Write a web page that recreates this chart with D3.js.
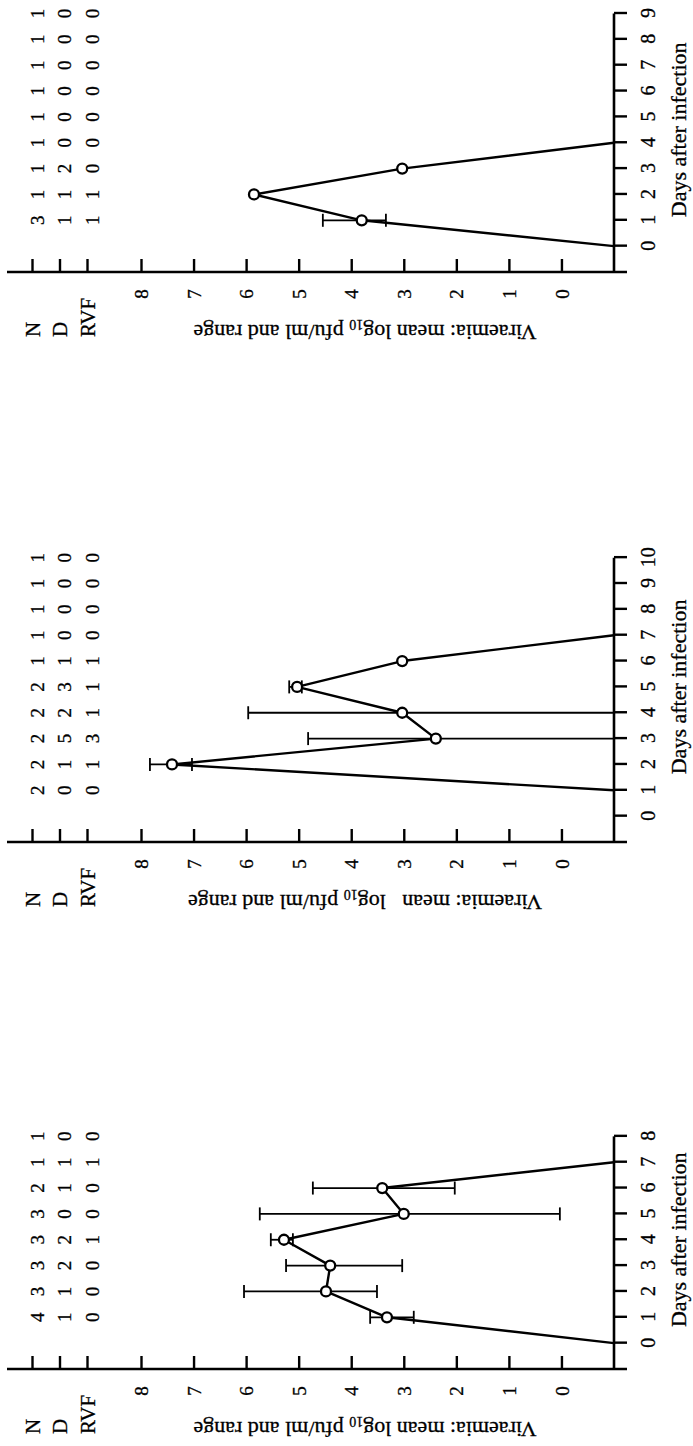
<!DOCTYPE html>
<html>
<head>
<meta charset="utf-8">
<script src="https://cdn.jsdelivr.net/npm/d3@7"></script>
<style>
  body { margin: 0; background: #fff; }
  text { font-family: "Liberation Serif", "Times New Roman", serif; fill: #000; stroke: #000; stroke-width: 0.3; }
</style>
</head>
<body>
<div id="app"></div>
<script>
// the figure is printed sideways: it is drawn upright and then turned -90deg

const rows = ["N", "D", "RVF"];
const valueTicks = [0, 1, 2, 3, 4, 5, 6, 7, 8];

// panel A (left in the upright figure)
const daysA = [0, 1, 2, 3, 4, 5, 6, 7];
const meanA = [null, 3.32, 4.48, 4.40, 5.28, 3.00, 3.41, null];
const errDaysA = [1, 2, 3, 4, 5, 6];
const errHiA = [3.64, 6.04, 5.24, 5.53, 5.74, 4.73];
const errLoA = [2.81, 3.51, 3.03, 5.11, 0.03, 2.03];
const nA = [4, 3, 3, 3, 3, 2, 1, 1];
const dA = [1, 1, 2, 2, 0, 1, 1, 0];
const rvfA = [0, 0, 0, 1, 0, 0, 1, 0];

// panel B (middle)
const daysB = [1, 2, 3, 4, 5, 6, 7];
const meanB = [null, 7.41, 2.39, 3.03, 5.03, 3.03, null];
const errDaysB = [2, 3, 4, 5];
const errHiB = [7.83, 4.82, 5.96, 5.18];
const errLoB = [7.03, null, null, 4.94]; // null = down to the undetectable level
const nB = [2, 2, 2, 2, 2, 1, 1, 1, 1, 1];
const dB = [0, 1, 5, 2, 3, 1, 0, 0, 0, 0];
const rvfB = [0, 1, 3, 1, 1, 1, 0, 0, 0, 0];

// panel C (right)
const daysC = [0, 1, 2, 3, 4];
const meanC = [null, 3.80, 5.85, 3.03, null];
const errDaysC = [1];
const errHiC = [4.54];
const errLoC = [3.34];
const nC = [3, 1, 1, 1, 1, 1, 1, 1, 1];
const dC = [1, 1, 2, 0, 0, 0, 0, 0, 0];
const rvfC = [1, 1, 0, 0, 0, 0, 0, 0, 0];

const panels = [
  {maxDay: 8, corner: 77, days: daysA, mean: meanA, errDays: errDaysA, errHi: errHiA, errLo: errLoA,
   counts: [nA, dA, rvfA], gap: " "},
  {maxDay: 10, corner: 604, days: daysB, mean: meanB, errDays: errDaysB, errHi: errHiB, errLo: errLoB,
   counts: [nB, dB, rvfB], gap: "   "},
  {maxDay: 9, corner: 1174, days: daysC, mean: meanC, errDays: errDaysC, errHi: errHiC, errLo: errLoC,
   counts: [nC, dC, rvfC], gap: " "}
];

const W = 693, H = 1446;
const svg = d3.select("#app").append("svg")
    .attr("width", W)
    .attr("height", H)
    .attr("viewBox", [0, 0, W, H]);
svg.append("rect").attr("width", W).attr("height", H).attr("fill", "#fff");

// upright frame: width H, height W
const root = svg.append("g").attr("transform", `translate(0,${H}) rotate(-90)`);

const y = d3.scaleLinear().domain([-1, 8]).range([614, 141]);
const base = y.domain()[0];
const yRow = d3.scalePoint().domain(rows).range([32, 87]);
const step = 25.85;

panels.forEach(p => {
  const x = d3.scaleLinear()
      .domain([-1, p.maxDay])
      .range([p.corner, p.corner + step * (p.maxDay + 1)]);
  const g = root.append("g");

  // value axis
  g.append("line")
      .attr("x1", p.corner).attr("x2", p.corner)
      .attr("y1", 7).attr("y2", y(base) + 13)
      .attr("stroke", "#000").attr("stroke-width", 2.6);

  g.append("g")
      .attr("transform", `translate(${p.corner},0)`)
      .call(d3.axisLeft(y).tickValues(valueTicks).tickSize(-13))
      .call(a => a.select(".domain").remove())
      .call(a => a.selectAll("line").attr("stroke-width", 2.4))
      .call(a => a.selectAll("text")
          .attr("x", -22).attr("dy", "0.35em")
          .attr("text-anchor", "middle")
          .attr("font-size", 19));

  g.append("g")
      .attr("transform", `translate(${p.corner},0)`)
      .call(d3.axisLeft(yRow).tickSize(-13))
      .call(a => a.select(".domain").remove())
      .call(a => a.selectAll("line").attr("stroke-width", 2.4))
      .call(a => a.selectAll("text")
          .attr("x", -65).attr("dy", "0.35em")
          .attr("text-anchor", "start")
          .attr("font-size", 21));

  // days axis
  g.append("line")
      .attr("x1", p.corner).attr("x2", x(p.maxDay))
      .attr("y1", y(base)).attr("y2", y(base))
      .attr("stroke", "#000").attr("stroke-width", 2.6);

  g.append("g")
      .attr("transform", `translate(0,${y(base)})`)
      .call(d3.axisBottom(x).tickValues(d3.range(0, p.maxDay + 1)).tickSize(13))
      .call(a => a.select(".domain").remove())
      .call(a => a.selectAll("line").attr("stroke-width", 2.4))
      .call(a => a.selectAll("text")
          .attr("y", 34).attr("dy", "0.35em")
          .attr("font-size", 20));

  // counts of animals per day
  p.counts.forEach((vals, r) => {
    g.append("g").selectAll("text")
      .data(vals)
      .join("text")
        .attr("x", (d, i) => x(i + 1))
        .attr("y", yRow(rows[r]) + 5)
        .attr("dy", "0.35em")
        .attr("text-anchor", "middle")
        .attr("font-size", 19)
        .text(d => d);
  });

  // ranges
  const eb = g.append("g").attr("stroke", "#000").attr("stroke-width", 1.8);
  p.errDays.forEach((d, i) => {
    const hi = p.errHi[i], lo = p.errLo[i];
    eb.append("line")
        .attr("x1", x(d)).attr("x2", x(d))
        .attr("y1", y(hi)).attr("y2", y(lo == null ? base : lo));
    eb.append("line")
        .attr("x1", x(d) - 6.5).attr("x2", x(d) + 6.5)
        .attr("y1", y(hi)).attr("y2", y(hi));
    if (lo != null) eb.append("line")
        .attr("x1", x(d) - 6.5).attr("x2", x(d) + 6.5)
        .attr("y1", y(lo)).attr("y2", y(lo));
  });

  // mean line
  const line = d3.line()
      .x((d, i) => x(p.days[i]))
      .y(d => y(d == null ? base : d));
  g.append("path")
      .attr("d", line(p.mean))
      .attr("fill", "none")
      .attr("stroke", "#000")
      .attr("stroke-width", 2.4)
      .attr("stroke-linejoin", "round");

  g.append("g").selectAll("circle")
    .data(p.days.map((d, i) => [d, p.mean[i]]).filter(d => d[1] != null))
    .join("circle")
      .attr("cx", d => x(d[0]))
      .attr("cy", d => y(d[1]))
      .attr("r", 5)
      .attr("fill", "#fff")
      .attr("stroke", "#000")
      .attr("stroke-width", 2.3);

  // titles
  g.append("text")
      .attr("x", x(p.maxDay / 2))
      .attr("y", 678)
      .attr("dy", "0.35em")
      .attr("text-anchor", "middle")
      .attr("font-size", 22)
      .text("Days after infection");

  const t = g.append("text")
      .attr("transform", `translate(${p.corner - 61},365) rotate(-90)`)
      .attr("dy", "0.35em")
      .attr("text-anchor", "middle")
      .attr("font-size", 22)
      .style("white-space", "pre");
  t.append("tspan").text("Viraemia: mean" + p.gap + "log");
  t.append("tspan").attr("dy", 5).attr("font-size", 14).text("10");
  t.append("tspan").attr("dy", -5).text(" pfu/ml and range");
});
</script>
</body>
</html>
